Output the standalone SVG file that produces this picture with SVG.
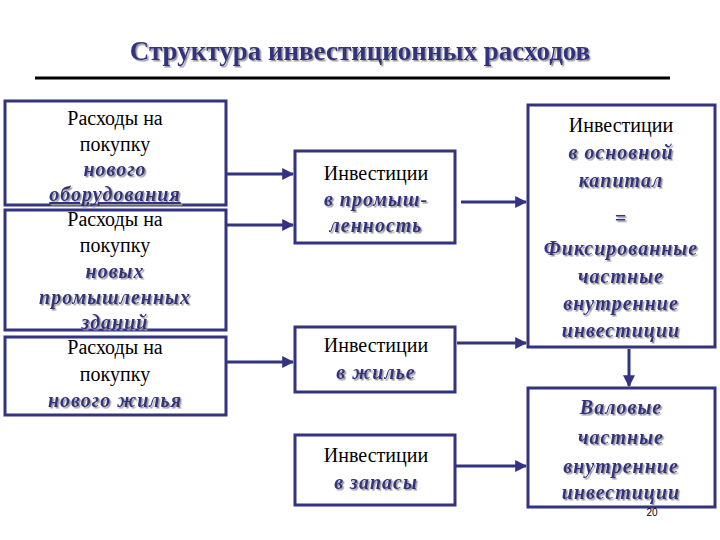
<svg xmlns="http://www.w3.org/2000/svg" width="720" height="540" viewBox="0 0 720 540">
<defs>
<style>
.box{fill:#fff;stroke:#333380;stroke-width:3}
.n{font-family:"Liberation Serif","Times New Roman","DejaVu Serif",serif;font-size:20px;fill:#000;text-anchor:middle}
.e{font-family:"Liberation Serif","Times New Roman","DejaVu Serif",serif;font-size:20px;font-weight:bold;font-style:italic;fill:#333380;text-anchor:middle;letter-spacing:1px}
.t{font-family:"Liberation Serif","Times New Roman","DejaVu Serif",serif;font-size:27px;font-weight:bold;fill:#333380;text-anchor:middle}
.u{text-decoration:underline}
.c{stroke:#333380;stroke-width:3;fill:none}
</style>
<filter id="sh" x="-5%" y="-5%" width="110%" height="120%"><feDropShadow dx="1.5" dy="1.5" stdDeviation="0.6" flood-color="#999"/></filter>
<marker id="ar" viewBox="0 0 10 10" refX="9" refY="5" markerWidth="4" markerHeight="4" orient="auto"><path d="M0,0L10,5L0,10z" fill="#333380"/></marker>
</defs>
<rect width="720" height="540" fill="#fff"/>
<text class="t" x="360" y="60" filter="url(#sh)">Структура инвестиционных расходов</text>
<line x1="35" y1="78" x2="670" y2="78" stroke="#000" stroke-width="3"/>
<g id="l1"><rect class="box" x="5" y="101" width="221" height="104"/>
<text class="n" x="115" y="125">Расходы на</text><text class="n" x="115" y="151">покупку</text>
<g filter="url(#sh)"><text class="e" x="115" y="176">нового</text><text class="e u" x="115" y="201">оборудования</text></g></g>
<g id="l2"><rect class="box" x="5" y="210" width="221" height="120"/>
<text class="n" x="115" y="226">Расходы на</text><text class="n" x="115" y="252">покупку</text>
<g filter="url(#sh)"><text class="e" x="115" y="278">новых</text><text class="e" x="115" y="304">промышленных</text><text class="e" x="115" y="329">зданий</text></g></g>
<g id="l3"><rect class="box" x="5" y="337" width="221" height="78"/>
<text class="n" x="115" y="354">Расходы на</text><text class="n" x="115" y="381">покупку</text>
<g filter="url(#sh)"><text class="e" x="115" y="407">нового  жилья</text></g></g>
<g id="m1"><rect class="box" x="295" y="151" width="160" height="92"/>
<text class="n" x="376" y="180">Инвестиции</text>
<g filter="url(#sh)"><text class="e" x="376" y="206">в промыш-</text><text class="e" x="376" y="232">ленность</text></g></g>
<g id="m2"><rect class="box" x="295" y="327" width="160" height="65"/>
<text class="n" x="376" y="352">Инвестиции</text>
<g filter="url(#sh)"><text class="e" x="376" y="379">в жилье</text></g></g>
<g id="m3"><rect class="box" x="295" y="435" width="160" height="70"/>
<text class="n" x="376" y="462">Инвестиции</text>
<g filter="url(#sh)"><text class="e" x="376" y="489">в запасы</text></g></g>
<g id="r1"><rect class="box" x="528" y="105" width="187" height="242"/>
<text class="n" x="621" y="132">Инвестиции</text>
<g filter="url(#sh)"><text class="e" x="621" y="159">в основной</text><text class="e" x="621" y="187">капитал</text>
<text class="e" x="621" y="225">=</text><text class="e" x="621" y="255">Фиксированные</text><text class="e" x="621" y="283">частные</text><text class="e" x="621" y="310">внутренние</text><text class="e" x="621" y="337">инвестиции</text></g></g>
<g id="r2"><rect class="box" x="528" y="388" width="187" height="119"/>
<g filter="url(#sh)"><text class="e" x="621" y="414">Валовые</text><text class="e" x="621" y="444">частные</text><text class="e" x="621" y="473">внутренние</text><text class="e" x="621" y="499">инвестиции</text></g>
<text x="652" y="516" font-family="Liberation Sans,sans-serif" font-size="10" text-anchor="middle">20</text></g>
<g id="connectors">
<line class="c" x1="226" y1="174" x2="293" y2="174" marker-end="url(#ar)"/>
<line class="c" x1="226" y1="225" x2="293" y2="225" marker-end="url(#ar)"/>
<line class="c" x1="226" y1="362" x2="293" y2="362" marker-end="url(#ar)"/>
<line class="c" x1="461" y1="202" x2="526" y2="202" marker-end="url(#ar)"/>
<line class="c" x1="457" y1="343" x2="526" y2="343" marker-end="url(#ar)"/>
<line class="c" x1="455" y1="466" x2="526" y2="466" marker-end="url(#ar)"/>
<line class="c" x1="629" y1="349" x2="629" y2="386" marker-end="url(#ar)"/>
</g>
</svg>
